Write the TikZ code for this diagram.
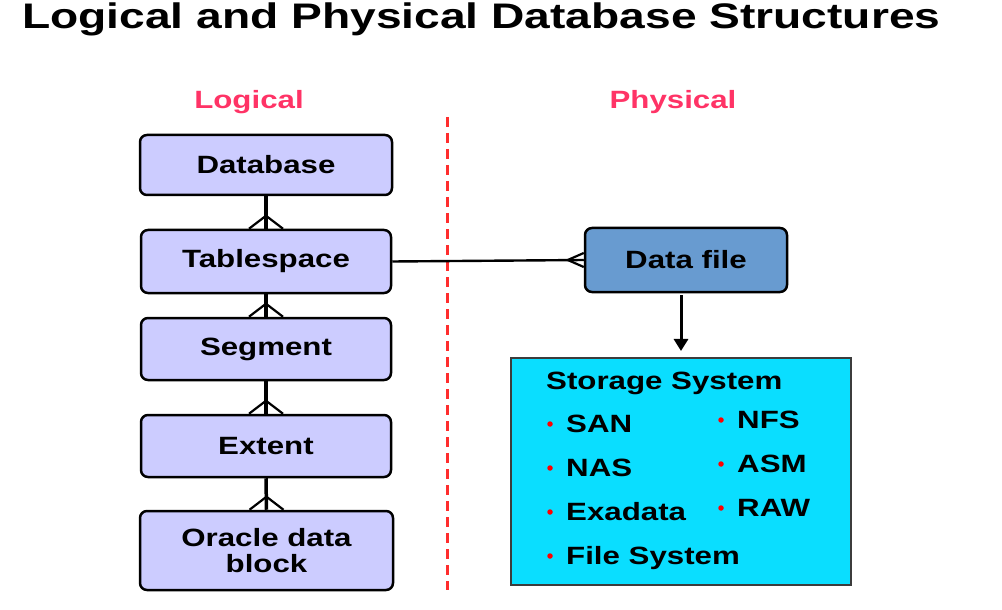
\documentclass[tikz,border=0pt]{standalone}
\usepackage{fontspec}
\newfontfamily\wf[FakeStretch=1.25]{Liberation Sans}
\newfontfamily\tf[FakeStretch=1.3]{Liberation Sans}
\usetikzlibrary{calc,arrows.meta}
\definecolor{lav}{RGB}{204,204,255}
\definecolor{dfblue}{RGB}{104,155,208}
\definecolor{stcyan}{RGB}{10,222,255}
\definecolor{lblred}{RGB}{255,51,102}
\definecolor{dashred}{RGB}{255,45,45}
\definecolor{stborder}{RGB}{60,60,60}
\tikzset{
  txt/.style={font=\wf\bfseries\fontsize{25bp}{26bp}\selectfont},
  lbox/.style={txt, draw=black, line width=2.5bp, fill=lav, rounded corners=7bp,
    minimum width=250bp, inner sep=0pt, align=center},
  conn/.style={draw=black, line width=3.5bp},
  crow/.style={draw=black, line width=2.2bp},
  hconn/.style={draw=black, line width=2.4bp},
  arr/.style={draw=black, line width=3bp, -{Triangle[length=12bp,width=14bp]}},
  sect/.style={txt, text=lblred, inner sep=0pt, anchor=base},
  item/.style={txt, inner sep=0pt, anchor=base west},
  bul/.style={fill=red, circle, inner sep=0pt, minimum size=5.5bp},
}
\begin{document}
\begin{tikzpicture}[x=1bp, y=-1bp]
\useasboundingbox (0,0) rectangle (1002,610);
% title
\node[font=\tf\bfseries\fontsize{35.5bp}{38bp}\selectfont, inner sep=0pt, anchor=base west] (title) at (22,29) {Logical and Physical Database Structures};
% section labels
\node[sect] (logical) at (249,109) {Logical};
\node[sect] (physical) at (673,109) {Physical};
% divider
\coordinate (dtop) at (447,117);
\coordinate (dbot) at (447,590);
\draw[dashred, line width=3bp, dash pattern=on 10bp off 6bp] (dtop) -- (dbot);
% logical boxes
\node[lbox, minimum width=252bp, minimum height=60bp] (db) at (266,165) {Database};
\node[lbox, minimum height=63bp] (ts) at (266,261.5) {Tablespace};
\node[lbox, minimum height=62bp] (sg) at (266,349) {Segment};
\node[lbox, minimum height=62bp] (ex) at (266,446) {Extent};
\node[lbox, minimum width=253bp, minimum height=79bp] (ob) at (266.5,550.5) {Oracle data\\block};
% vertical connectors with crow's feet
\foreach \a/\b in {db/ts, ts/sg, sg/ex, ex/ob}{
  \draw[conn] (\a.south) -- (\b.north);
  \draw[crow] ($(\b.north)+(-17,0)$) -- ($(\b.north)+(0,-13)$) -- ($(\b.north)+(17,0)$);
}
% physical
\node[txt, draw=black, line width=2.5bp, fill=dfblue, rounded corners=7bp,
  minimum width=202bp, minimum height=64bp, inner sep=0pt] (df) at (686,260) {Data file};
\draw[hconn] (ts.east) -- (df.west);
\draw[crow] ($(df.west)+(0,-7)$) -- ($(df.west)+(-16,0)$) -- ($(df.west)+(0,7)$);
\node[draw=stborder, line width=2bp, fill=stcyan, minimum width=340bp, minimum height=227bp, inner sep=0pt] (st) at (681,471.5) {};
\coordinate (arrtop) at ($(df.south)+(-5,2)$);
\draw[arr, shorten >=6bp] (arrtop) -- (arrtop |- st.north);
% storage contents
\node[item] (sthead) at (546,389) {Storage System};
\node[item] (san) at (566,432) {SAN};
\node[item] (nas) at (566,476) {NAS};
\node[item] (exa) at (566,520) {Exadata};
\node[item] (fs) at (566,564) {File System};
\node[item] (nfs) at (737,428) {NFS};
\node[item] (asm) at (737,472) {ASM};
\node[item] (raw) at (737,516) {RAW};
\foreach \n in {san,nas,exa,fs,nfs,asm,raw}{
  \node[bul] at ($(\n.base west)+(-16,-8)$) {};
}
\end{tikzpicture}
\end{document}
